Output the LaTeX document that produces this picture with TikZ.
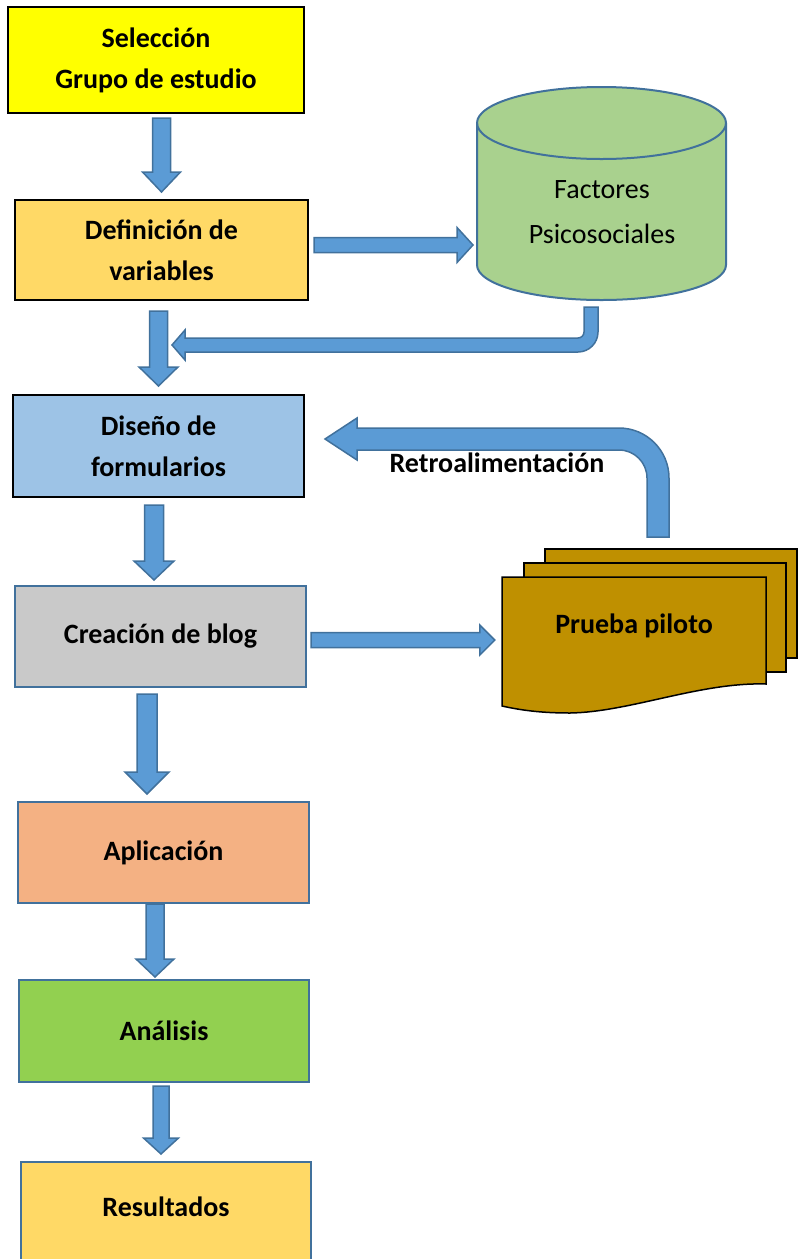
\documentclass[tikz,border=0pt]{standalone}
\usepackage{fontspec}
\setmainfont{Carlito}
\usetikzlibrary{calc}
\definecolor{azulflecha}{HTML}{5B9BD5}
\definecolor{azulborde}{HTML}{41719C}
\definecolor{amarillo}{HTML}{FFFF00}
\definecolor{naranjaclaro}{HTML}{FFD966}
\definecolor{celeste}{HTML}{9DC3E6}
\definecolor{gris}{HTML}{C9C9C9}
\definecolor{salmon}{HTML}{F4B183}
\definecolor{verdelima}{HTML}{92D050}
\definecolor{verdecil}{HTML}{A9D18E}
\definecolor{ocre}{HTML}{BF9000}

\tikzset{
  caja/.style={draw=black, line width=2pt, minimum width=291pt, minimum height=101pt,
    align=center, font=\bfseries\fontsize{28}{41}\selectfont},
  rotulo/.style={font=\bfseries\fontsize{28}{41}\selectfont},
  bloque/.style={fill=azulflecha, draw=azulborde, line width=1.5pt},
  documento/.style={fill=ocre, draw=black, line width=1.5pt},
  cilindro/.style={fill=verdecil, draw=azulborde, line width=2pt},
}

\newcommand{\flechaabajo}[5]{%
  \path[bloque] let \p1=(#1), \p2=(#2) in
    (\x1-#3,\y1) -- (\x1+#3,\y1) -- (\x1+#3,\y2+#5) -- (\x1+#4,\y2+#5)
    -- (\x1,\y2) -- (\x1-#4,\y2+#5) -- (\x1-#3,\y2+#5) -- cycle;}
\newcommand{\flechaderecha}[5]{%
  \path[bloque] let \p1=(#1), \p2=(#2) in
    (\x1,\y1-#3) -- (\x2-#5,\y1-#3) -- (\x2-#5,\y1-#4) -- (\x2,\y1)
    -- (\x2-#5,\y1+#4) -- (\x2-#5,\y1+#3) -- (\x1,\y1+#3) -- cycle;}

\begin{document}
\begin{tikzpicture}[x=1pt, y=-1pt]
  \useasboundingbox (0,0) rectangle (798,1259);

  \node[caja, fill=amarillo, minimum width=296pt, minimum height=106pt] (sel) at (156,60) {Selección\\Grupo de estudio};
  \node[caja, fill=naranjaclaro, minimum width=293pt, minimum height=100pt] (def) at (161.5,250) {Definición de\\variables};
  \node[caja, fill=celeste, minimum height=102pt] (des) at (158.5,446) {Diseño de\\formularios};
  \node[caja, draw=azulborde, fill=gris] (cre) at (160.5,636.5) {Creación de blog};
  \node[caja, draw=azulborde, fill=salmon] (apl) at (163.5,852.5) {Aplicación};
  \node[caja, draw=azulborde, fill=verdelima, minimum width=290pt, minimum height=102pt] (ana) at (164,1031) {Análisis};
  \node[caja, draw=azulborde, fill=naranjaclaro, minimum width=290pt, minimum height=108pt, text depth=18pt] (res) at (166,1216) {Resultados};

  \filldraw[cilindro] (477,123) -- (477,265) arc[start angle=180, end angle=0, x radius=124.5, y radius=35]
    -- (726,123) arc[start angle=0, end angle=-180, x radius=124.5, y radius=36] -- cycle;
  \draw[draw=azulborde, line width=2pt] (477,123) arc[start angle=180, end angle=0, x radius=124.5, y radius=36];
  \node[font=\fontsize{28}{45}\selectfont, align=center] (fact) at (602,212) {Factores\\Psicosociales};
  \coordinate (cilO) at (477,245);

  \filldraw[documento] (545,549) rectangle (797,658);
  \filldraw[documento] (524,563) rectangle (786,672);
  \filldraw[documento] (502,577) -- (766,577) -- (766,684) .. controls (700,682) and (630,712) .. (570,713)
    .. controls (540,713) and (520,710) .. (502,706) -- cycle;
  \node[rotulo, minimum width=264pt, minimum height=107pt] (piloto) at (634,626) {Prueba piloto};

  \flechaabajo{$(sel.south -| def.north)+(0,4)$}{$(def.north)+(0,-7)$}{9pt}{19pt}{20pt}
  \flechaabajo{$(def.south -| des.north)+(0,10)$}{$(des.north)+(0,-8)$}{9pt}{19.5pt}{19pt}
  \flechaabajo{$(des.south)+(-4.5,7)$}{$(cre.north)+(0,-5)$}{9.5pt}{20pt}{19pt}
  \flechaabajo{$(cre.south)+(-13.5,6)$}{$(apl.north)+(0,-7)$}{10pt}{22pt}{22pt}
  \flechaabajo{$(apl.south)+(-8.5,0)$}{$(ana.north)+(0,-2)$}{9pt}{19pt}{18pt}
  \flechaabajo{$(ana.south)+(-3,3)$}{$(res.north)+(0,-7)$}{8pt}{17.5pt}{16pt}
  \flechaderecha{$(def.east)+(5,-5)$}{$(cilO)+(-4,0)$}{7.5pt}{17.5pt}{16pt}
  \flechaderecha{$(cre.east)+(4,3.5)$}{$(piloto.west)+(-7,0)$}{7.5pt}{15pt}{15pt}

  \filldraw[bloque] (584,307) -- (584,332) arc[start angle=0, end angle=90, radius=6] -- (185,338)
    -- (185,330) -- (172,345) -- (185,360) -- (185,352) -- (578,352)
    arc[start angle=90, end angle=0, radius=20] -- (598,307) -- cycle;
  \filldraw[bloque] (647,537) -- (647,478) arc[start angle=0, end angle=-90, radius=28] -- (357,450)
    -- (357,460) -- (325,439) -- (357,418) -- (357,428) -- (619,428)
    arc[start angle=-90, end angle=0, radius=50] -- (669,537) -- cycle;
  \node[rotulo] (retro) at (497,463) {Retroalimentación};
\end{tikzpicture}
\end{document}
